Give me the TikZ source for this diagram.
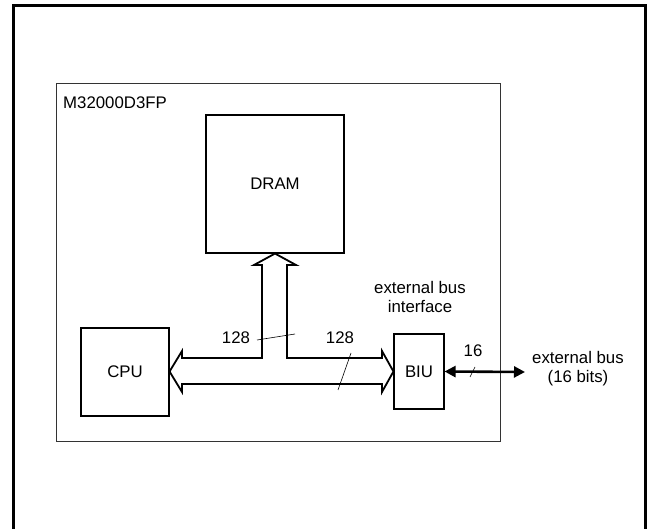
\documentclass[tikz,border=0pt]{standalone}
\usepackage{fontspec}
\setmainfont{Liberation Sans}
\usetikzlibrary{arrows.meta,calc}
\begin{document}
\begin{tikzpicture}[x=1pt,y=-1pt,
  lbl/.style={font=\fontsize{16.8}{19}\selectfont, inner sep=0pt, align=center},
  blockbox/.style={draw, line width=1.1pt, inner sep=0pt, font=\fontsize{16.8}{19}\selectfont},
  hollowbus/.style={draw, line width=1.8pt, line join=miter, fill=white},
  tick/.style={draw, line width=0.6pt},
  extbus/.style={line width=2.6pt, {Triangle[length=11pt,width=11pt]}-{Triangle[length=11pt,width=11pt]}}
]
\useasboundingbox (0,0) rectangle (653,529);
\begin{scope}
\clip (0,0) rectangle (653,529);
% outer frame
\draw[line width=3pt] (13,6) rectangle (645,560);
\end{scope}
% chip box
\node[draw, line width=1.3pt, draw=black!80, inner sep=0pt, minimum width=444pt, minimum height=358pt, anchor=north west] (chip) at (56,83) {};
\node[lbl, anchor=west] (chipname) at (63,103) {M32000D3FP};
% blocks
\node[blockbox, minimum width=138pt, minimum height=138pt] (dram) at (275,184) {DRAM};
\node[blockbox, minimum width=88pt, minimum height=88pt] (cpu) at (125,372) {CPU};
\node[blockbox, minimum width=50pt, minimum height=75pt] (biu) at (419,371.5) {BIU};
% hollow T-bus
\draw[hollowbus]
  (dram.south) -- (296,265) -- (287,265) -- (287,358) -- (382,358) -- (382,351)
  -- (biu.west) -- (382,392) -- (382,384) -- (182,384) -- (182,392)
  -- (cpu.east |- biu.west) -- (182,351) -- (182,358) -- (262,358) -- (262,265)
  -- (254,265) -- cycle;
% bus width labels
\node[lbl] (w1) at (236,338) {128};
\coordinate (t1a) at (257,340);
\coordinate (t1b) at (295,334);
\draw[tick] (t1a) -- (t1b);
\node[lbl] (w2) at (340,338) {128};
\coordinate (t2a) at (351,353);
\coordinate (t2b) at (338,390);
\draw[tick] (t2a) -- (t2b);
% external bus
\coordinate (busend) at (525,372);
\draw[extbus] (biu.east) -- (busend);
\node[lbl] (w3) at (473,351) {16};
\coordinate (t3a) at (475,367);
\coordinate (t3b) at (470,377);
\draw[tick] (t3a) -- (t3b);
\node[lbl] (biulbl) at (420,297) {external bus\\interface};
\node[lbl] (buslbl) at (578,369) {external bus\\(16 bits)};
\end{tikzpicture}
\end{document}
